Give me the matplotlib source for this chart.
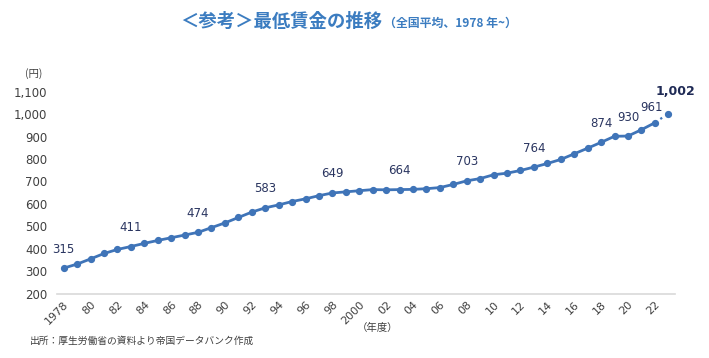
import matplotlib.pyplot as plt

plt.rcParams['font.family'] = ['DejaVu Sans', 'Noto Sans CJK JP']

# 最低賃金（全国加重平均、円）
years = list(range(1978, 2024))
wage = [315, 333, 356, 380, 398, 411, 425, 438, 450, 462,
        474, 495, 516, 540, 564, 583, 596, 611, 623, 637,
        649, 654, 659, 664, 663, 664, 665, 668, 673, 687,
        703, 713, 730, 737, 749, 764, 780, 798, 823, 848,
        874, 901, 902, 930, 961, 1002]
label_years = [1978, 1983, 1988, 1993, 1998, 2003, 2008, 2013, 2018]
tick_years = list(range(1978, 2023, 2))
tick_labels = ['1978' if y == 1978 else ('2000' if y == 2000 else f'{y % 100:02d}') for y in tick_years]

blue = '#3f74b8'
navy = '#2a3560'
gray = '#404040'
jp = ['Noto Sans CJK JP', 'DejaVu Sans']

fig = plt.figure(figsize=(7.09, 3.58), dpi=100)
ax = fig.add_axes([0.0804, 0.1788, 0.8716, 0.5656])

# 実績（〜2022）と 2023 年の点線
ax.plot(years[:-1], wage[:-1], color=blue, lw=2.0, marker='o', ms=4.2, zorder=3)
ax.plot(years[-2:], wage[-2:], color=blue, lw=1.6, ls=(0, (1, 2)), zorder=2)
ax.plot(years[-1], wage[-1], 'o', color=blue, ms=4.2, zorder=3)

for y in label_years:
    v = wage[years.index(y)]
    ax.annotate(str(v), (y, v), xytext=(0, 9), textcoords='offset points',
                ha='center', va='bottom', fontsize=8.5, color=navy)
# 直近は左寄せで重なりを避ける
ax.annotate(str(wage[-3]), (years[-3], wage[-3]), xytext=(-9.5, 4), textcoords='offset points',
            ha='center', va='bottom', fontsize=8.5, color=navy)
ax.annotate(str(wage[-2]), (years[-2], wage[-2]), xytext=(-2.5, 6.5), textcoords='offset points',
            ha='center', va='bottom', fontsize=8.5, color=navy)
ax.annotate(f'{wage[-1]:,}', (years[-1], wage[-1]), xytext=(5, 11), textcoords='offset points',
            ha='center', va='bottom', fontsize=9, color='#1f2a55', fontweight='bold')

ax.set_xlim(1977.5, 2023.5)
ax.set_ylim(200, 1100)
ax.set_yticks(range(200, 1101, 100))
ax.set_yticklabels([f'{v:,}' for v in range(200, 1101, 100)], fontsize=8.5, color=gray)
ax.set_xticks(tick_years)
ax.set_xticklabels(tick_labels, rotation=45, ha='right', rotation_mode='anchor',
                   fontsize=8, color=gray)
ax.tick_params(axis='both', length=0)
ax.tick_params(axis='y', pad=7)
ax.tick_params(axis='x', pad=4)

for s in ['top', 'right', 'left']:
    ax.spines[s].set_visible(False)
ax.spines['bottom'].set_color('#d9d9d9')
ax.spines['bottom'].set_linewidth(1.2)

fig.text(0.035, 0.795, '(円)', fontsize=7.5, color=gray, family=jp, va='center')
fig.text(0.533, 0.083, '（年度）', fontsize=7.5, color=gray, family=jp, ha='center', va='center')
fig.text(0.042, 0.048, '出所：厚生労働省の資料より帝国データバンク作成', fontsize=7, color=gray,
         family=jp, va='center')

fig.text(0.254, 0.941, '＜参考＞最低賃金の推移', fontsize=13.2, color='#3b7cc0',
         family=jp, fontweight='bold', va='center')
fig.text(0.541, 0.936, '（全国平均、1978 年~）', fontsize=8.6, color='#3b7cc0',
         family=jp, fontweight='bold', va='center')

fig.savefig('out.png', dpi=100)
